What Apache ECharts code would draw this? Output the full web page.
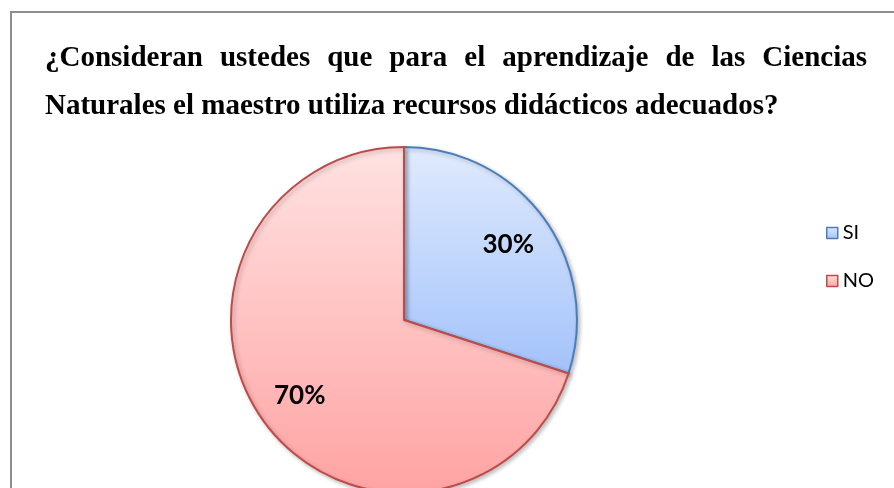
<!DOCTYPE html>
<html>
<head>
<meta charset="utf-8">
<script src="https://cdn.jsdelivr.net/npm/echarts@6/dist/echarts.min.js"></script>
<style>
  html, body { margin: 0; padding: 0; background: #fff; }
  #main { width: 894px; height: 488px; }
</style>
</head>
<body>
<div id="main"></div>
<script>
var categories = ['SI', 'NO'];
var values = [30, 70];
var titleLine1 = ['¿Consideran', 'ustedes', 'que', 'para', 'el', 'aprendizaje', 'de', 'las', 'Ciencias'];
var titleLine2 = 'Naturales el maestro utiliza recursos didácticos adecuados?';

var titleFont = 'bold 29px "Liberation Serif"';
var cx = 404, cy = 320, R = 173;

// justify first title line like the original
var cv = document.createElement('canvas').getContext('2d');
cv.font = titleFont;
var x0 = 45, x1 = 867;
var total = 0;
titleLine1.forEach(function(w) { total += cv.measureText(w).width; });
var gap = (x1 - x0 - total) / (titleLine1.length - 1);
var graphics = [];
var px = x0;
titleLine1.forEach(function(w) {
  graphics.push({
    type: 'text', left: px, top: 44,
    style: { text: w, font: titleFont, fill: '#000' }
  });
  px += cv.measureText(w).width + gap;
});
graphics.push({
  type: 'text', left: x0, top: 92,
  style: { text: titleLine2, font: titleFont, fill: '#000' }
});
// frame
graphics.push({
  type: 'polyline', silent: true,
  shape: { points: [[11, 500], [11, 12], [900, 12]] },
  style: { stroke: '#8e8e8e', lineWidth: 2, fill: null }
});

var fills = [
  { top: '#e0ebfd', bottom: '#a3c2fa', border: '#4a7ebb' },
  { top: '#ffe2e2', bottom: '#ffa3a3', border: '#be4b48' }
];

var pieData = categories.map(function(c, i) {
  return {
    name: c,
    value: values[i],
    itemStyle: {
      color: new echarts.graphic.LinearGradient(0, 0, 0, 1, [
        { offset: 0, color: fills[i].top },
        { offset: 1, color: fills[i].bottom }
      ]),
      borderColor: fills[i].border
    }
  };
});

var chart = echarts.init(document.getElementById('main'));
chart.setOption({
  animation: false,
  graphic: graphics,
  legend: {
    orient: 'vertical',
    left: 821,
    top: 218,
    itemWidth: 11,
    itemHeight: 11,
    itemGap: 28,
    icon: 'rect',
    data: categories,
    textStyle: { fontFamily: 'Lato', fontSize: 20, color: '#000', padding: [0, 0, 0, 0] },
    itemStyle: { borderWidth: 1.5 }
  },
  series: [{
    type: 'pie',
    center: [cx, cy],
    radius: [0, R],
    startAngle: 90,
    clockwise: true,
    itemStyle: {
      borderWidth: 2,
      shadowBlur: 4,
      shadowOffsetX: 2,
      shadowOffsetY: 2,
      shadowColor: 'rgba(0,0,0,0.25)'
    },
    label: {
      show: true,
      position: 'inside',
      formatter: '{d}%',
      fontFamily: 'Lato',
      fontWeight: 'bold',
      fontSize: 26,
      color: '#000'
    },
    labelLayout: function(p) {
      var lx = p.labelRect.x + p.labelRect.width / 2;
      var ly = p.labelRect.y + p.labelRect.height / 2;
      var k = 1.44;
      return { x: cx + (lx - cx) * k, y: cy + (ly - cy) * k };
    },
    labelLine: { show: false },
    data: pieData
  }]
});
</script>
</body>
</html>
